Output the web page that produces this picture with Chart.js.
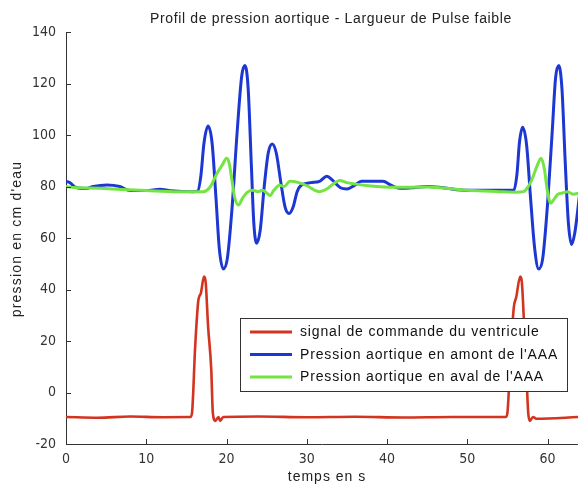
<!DOCTYPE html>
<html>
<head>
<meta charset="utf-8">
<script src="https://cdn.jsdelivr.net/npm/chart.js@4.4.1/dist/chart.umd.min.js"></script>
<style>
  html, body { margin: 0; padding: 0; background: #fff; overflow: hidden; }
  #wrap { position: relative; width: 578px; height: 485px; }
</style>
</head>
<body>
<div id="wrap"><canvas id="chart" width="578" height="485"></canvas></div>
<script>
// --- data ---
const chartTitle = 'Profil de pression aortique - Largueur de Pulse faible';
const xLabel = 'temps en s';
const yLabel = "pression en cm d'eau";
const seriesNames = [
  'signal de commande du ventricule',
  "Pression aortique en amont de l'AAA",
  "Pression aortique en aval de l'AAA"
];
const seriesColors = ['#d3341f', '#1c37d2', '#74e444'];

const xTicks = [0, 10, 20, 30, 40, 50, 60];
const yTicks = [-20, 0, 20, 40, 60, 80, 100, 120, 140];

// ventricle command signal
const tCmd = [0, 4, 8, 12, 15.5, 15.7, 16.1, 16.5, 16.8, 17.2, 17.4, 17.7, 18.1, 18.3, 18.6, 19.0, 19.2, 19.6,
  24, 30, 36, 42, 48, 54.8, 55.0, 55.4, 55.8, 56.1, 56.6, 56.8, 57.1, 57.4, 57.6, 57.8, 58.2, 58.6, 64];
const vCmd = [-9.5, -9.8, -9.3, -9.6, -9.5, -8, 18, 36, 38.5, 45, 43, 26, 9, -8, -11, -9.5, -11, -9.5,
  -9.3, -9.6, -9.4, -9.7, -9.5, -9.5, -8, 15, 33, 37, 45, 43, 25, 5, -8, -11, -9.5, -10.2, -9.5];

// upstream aortic pressure
const tUp = [0, 0.5, 1.0, 1.5, 2.5, 3.4, 5.1, 6.7, 8, 10, 11.7, 13, 15.8, 16.4, 16.8, 17.2, 17.7, 18.2, 18.7, 19.1,
  19.6, 20.1, 20.7, 21.3, 21.9, 22.3, 22.7, 23.1, 23.4, 23.75, 24.2, 24.7, 25.2, 25.7, 26.2, 26.8, 27.3, 27.8,
  28.3, 28.8, 29.3, 30.5, 31.6, 32.5, 33.2, 34.2, 35.0, 36.0, 36.8, 38, 39.5, 40.5, 41.6, 43, 45, 47, 50, 53,
  55.8, 56.2, 56.5, 56.9, 57.4, 57.9, 58.4, 58.9, 59.4, 60.0, 60.6, 61.0, 61.4, 61.8, 62.2, 62.6, 63.0, 63.4, 64];
const vUp = [82, 81.5, 80, 79.4, 79.2, 80, 80.6, 80, 78.4, 78.4, 78.9, 78.4, 78, 78.2, 84, 97, 103.5, 97, 75, 56,
  48, 52, 72, 100, 123, 127, 118, 88, 66, 58, 63, 80, 93, 96.5, 93, 81, 72, 69.5,
  72, 78, 80.5, 81.5, 82, 84, 82.5, 79.5, 79, 80.5, 82, 82, 82, 80.5, 79.3, 79.5, 80, 79.5, 78.5, 78.5,
  78.5, 85, 97, 103, 96, 75, 56, 48, 52, 73, 102, 122, 127, 118, 90, 66, 57.5, 62, 77];

// downstream aortic pressure
const tDown = [0, 1, 4.2, 7, 10, 14, 17.1, 18.0, 18.8, 19.5, 20.0, 20.3, 20.7, 21.0, 21.5, 22.0, 22.7, 23.3, 23.9,
  24.5, 25.0, 25.4, 25.9, 26.6, 27.2, 27.9, 29.0, 30.2, 31.0, 31.6, 32.5, 33.3, 34.1, 35.0, 36.0, 38, 41, 45,
  50, 54, 56, 57.0, 57.6, 58.1, 58.7, 59.2, 59.6, 60.0, 60.4, 60.8, 61.3, 61.9, 62.5, 63.2, 64];
const vDown = [80, 79.6, 79.3, 78.8, 78.4, 78, 78, 80, 85, 88.5, 91, 89.5, 82, 76, 72.8, 75.5, 78, 78.5, 78,
  78.5, 77.5, 76.5, 78.5, 80.5, 80, 82, 81.5, 80, 78.5, 78, 79, 81, 82.3, 81.5, 81, 80.2, 79.7, 79.8,
  78.5, 78, 77.8, 78, 80, 83, 88, 91, 87, 78, 73.5, 75, 77, 77.5, 78, 77, 77.5];

function pts(t, v) { return t.map((x, i) => ({ x: x, y: v[i] })); }

const FONT = '"Liberation Sans", Arial, sans-serif';
const TICK_FONT = '"Liberation Sans Narrow", "DejaVu Sans Condensed", "Liberation Sans", sans-serif';

function spacedText(ctx, text, x, y, size, spacing, align) {
  ctx.font = size + 'px ' + FONT;
  ctx.letterSpacing = spacing + 'px';
  ctx.textAlign = align || 'left';
  ctx.textBaseline = 'middle';
  ctx.fillText(text, x, y);
  ctx.letterSpacing = '0px';
}

// inward tick marks, MATLAB style
const inwardTicks = {
  id: 'inwardTicks',
  afterDatasetsDraw(chart) {
    const { ctx, chartArea, scales } = chart;
    ctx.save();
    ctx.strokeStyle = '#333';
    ctx.lineWidth = 1;
    ctx.beginPath();
    xTicks.forEach(v => {
      const px = Math.round(scales.x.getPixelForValue(v)) + 0.5;
      ctx.moveTo(px, chartArea.bottom);
      ctx.lineTo(px, chartArea.bottom - 5);
    });
    yTicks.forEach(v => {
      const py = Math.round(scales.y.getPixelForValue(v)) + 0.5;
      ctx.moveTo(chartArea.left, py);
      ctx.lineTo(chartArea.left + 5, py);
    });
    ctx.stroke();
    ctx.restore();
  }
};

// title, axis titles and boxed legend (MATLAB spacing)
const texts = {
  id: 'texts',
  afterDraw(chart) {
    const ctx = chart.ctx;
    ctx.save();
    ctx.fillStyle = '#222';
    spacedText(ctx, chartTitle, 331, 19, 14, 0.65, 'center');
    spacedText(ctx, xLabel, 327, 477, 14, 1, 'center');
    ctx.save();
    ctx.translate(17, 239);
    ctx.rotate(-Math.PI / 2);
    spacedText(ctx, yLabel, 0, 0, 14, 1.2, 'center');
    ctx.restore();

    const bx = 240.5, by = 318.5, bw = 327, bh = 73;
    ctx.fillStyle = '#fff';
    ctx.fillRect(bx, by, bw, bh);
    ctx.strokeStyle = '#333';
    ctx.lineWidth = 1;
    ctx.strokeRect(bx, by, bw, bh);
    chart.data.datasets.forEach((ds, i) => {
      const y = 332 + i * 22.5;
      ctx.strokeStyle = ds.borderColor;
      ctx.lineWidth = 3;
      ctx.beginPath();
      ctx.moveTo(250, y);
      ctx.lineTo(292, y);
      ctx.stroke();
      ctx.fillStyle = '#111';
      spacedText(ctx, ds.label, 300, y + 0.5, 14, 0.85, 'left');
    });
    ctx.restore();
  }
};

new Chart(document.getElementById('chart'), {
  type: 'scatter',
  data: {
    datasets: [
      { label: seriesNames[0], data: pts(tCmd, vCmd), borderColor: seriesColors[0], borderWidth: 2.6, order: 3 },
      { label: seriesNames[1], data: pts(tUp, vUp), borderColor: seriesColors[1], borderWidth: 3, order: 2 },
      { label: seriesNames[2], data: pts(tDown, vDown), borderColor: seriesColors[2], borderWidth: 3, order: 1 }
    ].map(d => Object.assign(d, {
      showLine: true, pointRadius: 0, cubicInterpolationMode: 'monotone', fill: false, backgroundColor: d.borderColor
    }))
  },
  options: {
    responsive: false,
    animation: false,
    layout: { padding: { left: 0, right: 0, top: 32, bottom: 0 } },
    plugins: {
      legend: { display: false },
      tooltip: { enabled: false },
      title: { display: false }
    },
    scales: {
      x: {
        type: 'linear',
        min: 0,
        max: 63.8,
        afterFit: s => { s.height = 41; },
        afterBuildTicks: s => { s.ticks = xTicks.map(v => ({ value: v })); },
        ticks: { color: '#333', font: { family: TICK_FONT, size: 14 }, padding: 7, maxRotation: 0 },
        grid: { drawOnChartArea: false, drawTicks: false },
        border: { color: '#333', width: 1 }
      },
      y: {
        min: -20,
        max: 140,
        afterFit: s => { s.width = 66; },
        afterBuildTicks: s => { s.ticks = yTicks.map(v => ({ value: v })); },
        ticks: { color: '#333', font: { family: TICK_FONT, size: 14 }, padding: 10 },
        grid: { drawOnChartArea: false, drawTicks: false },
        border: { color: '#333', width: 1 }
      }
    }
  },
  plugins: [inwardTicks, texts]
});
</script>
</body>
</html>
